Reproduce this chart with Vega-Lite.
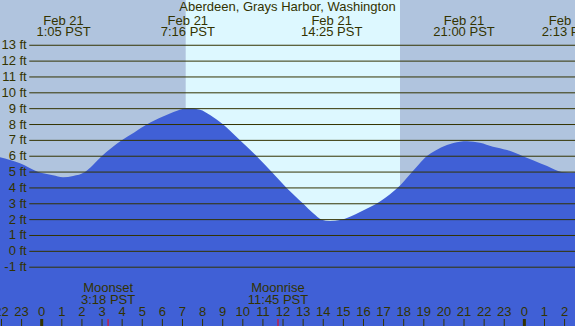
{
  "$schema": "https://vega.github.io/schema/vega-lite/v6.json",
  "width": 575,
  "height": 326,
  "autosize": "none",
  "padding": 0,
  "background": "#b0c4de",
  "config": {
    "view": {"stroke": null},
    "text": {"font": "Liberation Sans", "fontSize": 13, "color": "#333300"}
  },
  "datasets": {
    "periods": [
      {"start": -3, "end": 7.16, "period": "night"},
      {"start": 7.16, "end": 17.82, "period": "day"},
      {"start": 17.82, "end": 28, "period": "night"}
    ],
    "tide": [
      {"hour": -2.3, "ft": 6.0}, {"hour": -2.07, "ft": 5.93}, {"hour": -1.08, "ft": 5.55},
      {"hour": -0.17, "ft": 5.0}, {"hour": 0.56, "ft": 4.8}, {"hour": 1.06, "ft": 4.67},
      {"hour": 1.56, "ft": 4.75}, {"hour": 2.15, "ft": 5.0}, {"hour": 2.55, "ft": 5.45},
      {"hour": 2.98, "ft": 6.0}, {"hour": 3.45, "ft": 6.5}, {"hour": 3.98, "ft": 7.0},
      {"hour": 4.6, "ft": 7.5}, {"hour": 5.22, "ft": 8.0}, {"hour": 6.03, "ft": 8.5},
      {"hour": 6.73, "ft": 8.87}, {"hour": 7.27, "ft": 9.02}, {"hour": 7.87, "ft": 8.93},
      {"hour": 8.37, "ft": 8.6}, {"hour": 9.03, "ft": 8.0}, {"hour": 9.86, "ft": 7.0},
      {"hour": 10.69, "ft": 6.0}, {"hour": 11.44, "ft": 5.0}, {"hour": 12.18, "ft": 4.0},
      {"hour": 13.01, "ft": 3.0}, {"hour": 13.5, "ft": 2.4}, {"hour": 13.92, "ft": 2.0},
      {"hour": 14.34, "ft": 1.91}, {"hour": 14.83, "ft": 1.97}, {"hour": 15.33, "ft": 2.18},
      {"hour": 15.83, "ft": 2.48}, {"hour": 16.33, "ft": 2.8}, {"hour": 16.82, "ft": 3.15},
      {"hour": 17.32, "ft": 3.6}, {"hour": 17.82, "ft": 4.15}, {"hour": 18.38, "ft": 4.95},
      {"hour": 18.76, "ft": 5.5}, {"hour": 19.14, "ft": 6.0},
      {"hour": 19.56, "ft": 6.35}, {"hour": 20.15, "ft": 6.71}, {"hour": 20.8, "ft": 6.92},
      {"hour": 21.15, "ft": 6.94}, {"hour": 21.79, "ft": 6.85}, {"hour": 22.44, "ft": 6.6},
      {"hour": 23.14, "ft": 6.39}, {"hour": 23.93, "ft": 6.0}, {"hour": 24.43, "ft": 5.75},
      {"hour": 25.13, "ft": 5.38}, {"hour": 25.86, "ft": 5.0}, {"hour": 26.22, "ft": 4.97},
      {"hour": 26.7, "ft": 5.0}
    ],
    "levels": [
      {"ft": 13, "label": "13 ft"}, {"ft": 12, "label": "12 ft"}, {"ft": 11, "label": "11 ft"},
      {"ft": 10, "label": "10 ft"}, {"ft": 9, "label": "9 ft"}, {"ft": 8, "label": "8 ft"},
      {"ft": 7, "label": "7 ft"}, {"ft": 6, "label": "6 ft"}, {"ft": 5, "label": "5 ft"},
      {"ft": 4, "label": "4 ft"}, {"ft": 3, "label": "3 ft"}, {"ft": 2, "label": "2 ft"},
      {"ft": 1, "label": "1 ft"}, {"ft": 0, "label": "0 ft"}, {"ft": -1, "label": "-1 ft"}
    ],
    "hours": [
      {"hour": -2, "label": "22"}, {"hour": -1, "label": "23"}, {"hour": 0, "label": "0"},
      {"hour": 1, "label": "1"}, {"hour": 2, "label": "2"}, {"hour": 3, "label": "3"},
      {"hour": 4, "label": "4"}, {"hour": 5, "label": "5"}, {"hour": 6, "label": "6"},
      {"hour": 7, "label": "7"}, {"hour": 8, "label": "8"}, {"hour": 9, "label": "9"},
      {"hour": 10, "label": "10"}, {"hour": 11, "label": "11"}, {"hour": 12, "label": "12"},
      {"hour": 13, "label": "13"}, {"hour": 14, "label": "14"}, {"hour": 15, "label": "15"},
      {"hour": 16, "label": "16"}, {"hour": 17, "label": "17"}, {"hour": 18, "label": "18"},
      {"hour": 19, "label": "19"}, {"hour": 20, "label": "20"}, {"hour": 21, "label": "21"},
      {"hour": 22, "label": "22"}, {"hour": 23, "label": "23"}, {"hour": 24, "label": "0"},
      {"hour": 25, "label": "1"}, {"hour": 26, "label": "2"}
    ],
    "moon": [
      {"hour": 3.3, "event": "Moonset", "time": "3:18 PST"},
      {"hour": 11.75, "event": "Moonrise", "time": "11:45 PST"}
    ],
    "tides": [
      {"hour": 1.083, "date": "Feb 21", "time": "1:05 PST"},
      {"hour": 7.267, "date": "Feb 21", "time": "7:16 PST"},
      {"hour": 14.417, "date": "Feb 21", "time": "14:25 PST"},
      {"hour": 21.0, "date": "Feb 21", "time": "21:00 PST"},
      {"hour": 26.217, "date": "Feb 22", "time": "2:13 PST"}
    ],
    "title": [{"hour": 12.22, "name": "Aberdeen, Grays Harbor, Washington"}]
  },
  "layer": [
    {
      "data": {"name": "periods"},
      "mark": {"type": "rect", "clip": true},
      "encoding": {
        "x": {"field": "start", "type": "quantitative", "scale": {"domain": [-2.074, 26.518], "nice": false, "zero": false}, "axis": null},
        "x2": {"field": "end"},
        "color": {"field": "period", "type": "nominal", "scale": {"domain": ["night", "day"], "range": ["#b0c4de", "#ddf8ff"]}, "legend": null}
      }
    },
    {
      "data": {"name": "tide"},
      "mark": {"type": "area", "clip": true, "interpolate": "monotone", "color": "#4060d6"},
      "encoding": {
        "x": {"field": "hour", "type": "quantitative", "scale": {"domain": [-2.074, 26.518], "nice": false, "zero": false}, "axis": null},
        "y": {"field": "ft", "type": "quantitative", "scale": {"domain": [-4.71, 15.855], "nice": false, "zero": false}, "axis": null},
        "y2": {"datum": -4.71}
      }
    },
    {
      "data": {"name": "levels"},
      "mark": {"type": "rule", "clip": true, "color": "#333300", "strokeWidth": 1},
      "encoding": {
        "x": {"datum": -0.617, "type": "quantitative"},
        "x2": {"datum": 26.6},
        "y": {"field": "ft", "type": "quantitative"}
      }
    },
    {
      "data": {"name": "levels"},
      "mark": {"type": "text", "align": "right", "baseline": "middle"},
      "encoding": {
        "x": {"datum": -0.746, "type": "quantitative"},
        "y": {"field": "ft", "type": "quantitative"},
        "text": {"field": "label"}
      }
    },
    {
      "data": {"name": "hours"},
      "mark": {"type": "rule", "color": "#333300", "strokeWidth": 1},
      "encoding": {
        "x": {"field": "hour", "type": "quantitative"},
        "y": {"datum": -4.27, "type": "quantitative"},
        "y2": {"datum": -4.71}
      }
    },
    {
      "data": {"name": "hours"},
      "transform": [{"filter": "datum.label === '0'"}],
      "mark": {"type": "rule", "color": "#333300", "strokeWidth": 3},
      "encoding": {
        "x": {"field": "hour", "type": "quantitative"},
        "y": {"datum": -4.27, "type": "quantitative"},
        "y2": {"datum": -4.71}
      }
    },
    {
      "data": {"name": "hours"},
      "mark": {"type": "text", "align": "center", "baseline": "alphabetic"},
      "encoding": {
        "x": {"field": "hour", "type": "quantitative"},
        "y": {"datum": -4.08, "type": "quantitative"},
        "text": {"field": "label"}
      }
    },
    {
      "data": {"name": "moon"},
      "mark": {"type": "rule", "color": "#ff0000", "strokeWidth": 1},
      "encoding": {
        "x": {"field": "hour", "type": "quantitative"},
        "y": {"datum": -4.27, "type": "quantitative"},
        "y2": {"datum": -4.71}
      }
    },
    {
      "data": {"name": "moon"},
      "mark": {"type": "text", "align": "center", "baseline": "alphabetic"},
      "encoding": {
        "x": {"field": "hour", "type": "quantitative"},
        "y": {"datum": -2.55, "type": "quantitative"},
        "text": {"field": "event"}
      }
    },
    {
      "data": {"name": "moon"},
      "mark": {"type": "text", "align": "center", "baseline": "alphabetic"},
      "encoding": {
        "x": {"field": "hour", "type": "quantitative"},
        "y": {"datum": -3.32, "type": "quantitative"},
        "text": {"field": "time"}
      }
    },
    {
      "data": {"name": "tides"},
      "mark": {"type": "text", "align": "center", "baseline": "alphabetic"},
      "encoding": {
        "x": {"field": "hour", "type": "quantitative"},
        "y": {"datum": 14.28, "type": "quantitative"},
        "text": {"field": "date"}
      }
    },
    {
      "data": {"name": "tides"},
      "mark": {"type": "text", "align": "center", "baseline": "alphabetic"},
      "encoding": {
        "x": {"field": "hour", "type": "quantitative"},
        "y": {"datum": 13.58, "type": "quantitative"},
        "text": {"field": "time"}
      }
    },
    {
      "data": {"name": "title"},
      "mark": {"type": "text", "align": "center", "baseline": "alphabetic"},
      "encoding": {
        "x": {"field": "hour", "type": "quantitative"},
        "y": {"datum": 15.16, "type": "quantitative"},
        "text": {"field": "name"}
      }
    }
  ]
}
